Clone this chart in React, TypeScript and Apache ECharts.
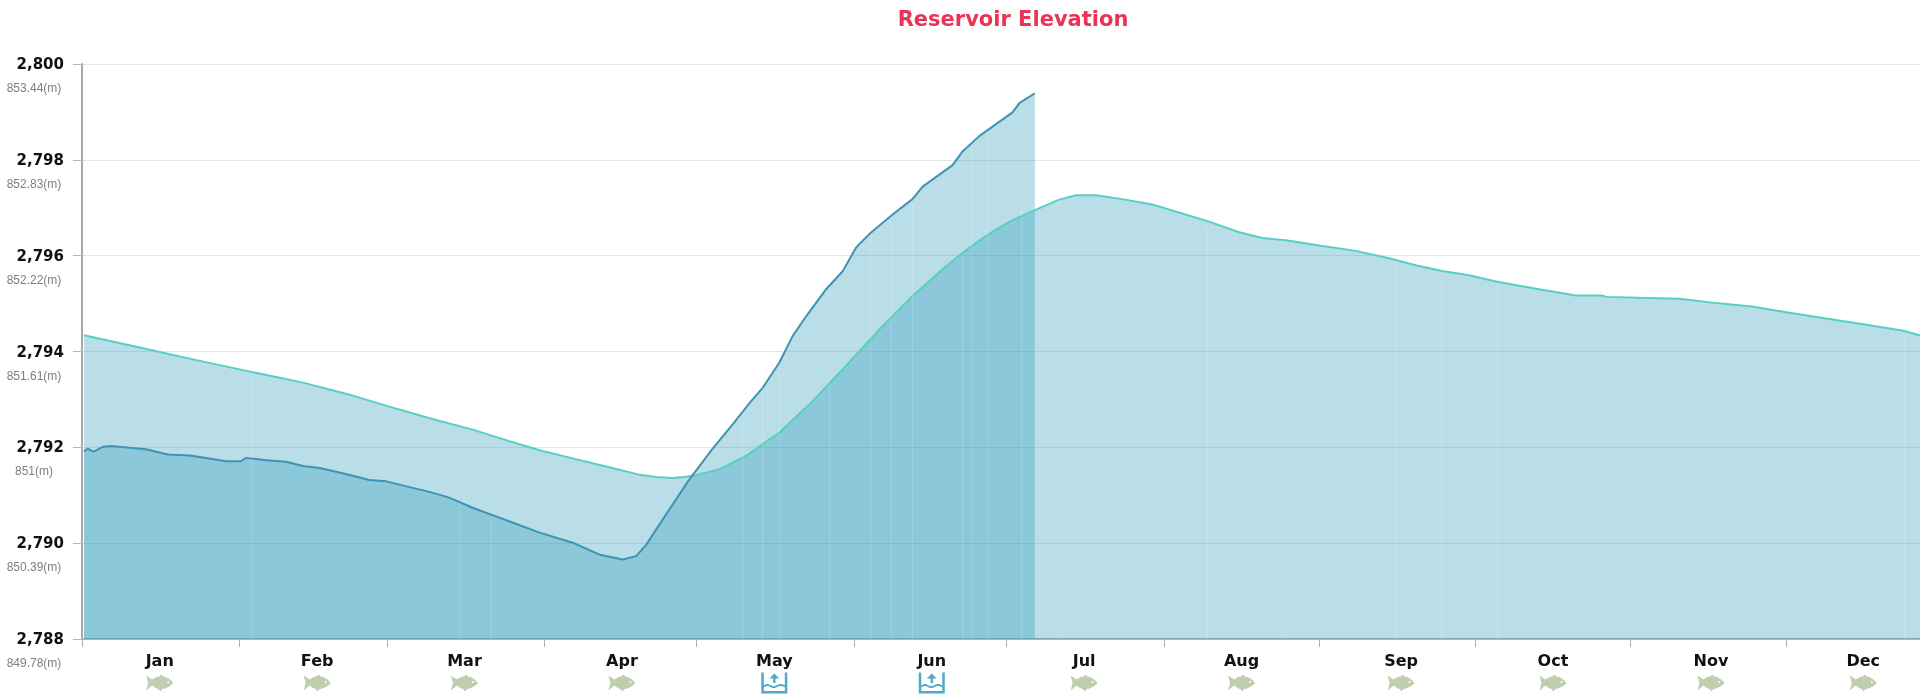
import React, { useEffect, useRef } from "react";
import * as echarts from "echarts";

const monthNames = ["Jan", "Feb", "Mar", "Apr", "May", "Jun", "Jul", "Aug", "Sep", "Oct", "Nov", "Dec"];
const monthStarts = [0, 31, 60, 91, 121, 152, 182, 213, 243.6, 274.4, 304.8, 335.6, 366];
const monthLabelDays = [15.3, 46.3, 75.3, 106.3, 136.3, 167.3, 197.3, 228.3, 259.7, 289.6, 320.7, 350.7];
const monthIcons = ["fish", "fish", "fish", "fish", "basin", "basin", "fish", "fish", "fish", "fish", "fish", "fish"];
const iconRowValue = 2787.08;

const feetTicks = [2788, 2790, 2792, 2794, 2796, 2798, 2800];
const metreLabels = ["849.78(m)", "850.39(m)", "851(m)", "851.61(m)", "852.22(m)", "852.83(m)", "853.44(m)"];

const normalDays = [0.4, 10.7, 22.5, 33.6, 43.5, 53.3, 60.5, 69.7, 76.9, 83.5, 90.1, 96.6, 103.2, 109.7, 113, 116.2, 118.5, 120.9, 125.5, 130.7, 137.3, 143.9, 150.4, 157, 163.5, 170.1, 173.4, 176.7, 180, 183.2, 187.6, 192.4, 195.7, 199.6, 204.8, 210.7, 216.6, 221.9, 227.8, 232.4, 237, 244.2, 250.8, 256.7, 262.6, 267.8, 273.1, 278.4, 286.3, 294.1, 299.3, 300, 306.6, 314.5, 321, 328.8, 335.5, 343.4, 351.9, 358.4, 361.8, 366];
const normalValues = [2794.34, 2794.1, 2793.82, 2793.57, 2793.35, 2793.08, 2792.85, 2792.57, 2792.37, 2792.15, 2791.94, 2791.77, 2791.6, 2791.43, 2791.38, 2791.36, 2791.38, 2791.42, 2791.54, 2791.82, 2792.31, 2792.97, 2793.7, 2794.46, 2795.16, 2795.78, 2796.06, 2796.32, 2796.55, 2796.74, 2796.95, 2797.17, 2797.26, 2797.26, 2797.18, 2797.07, 2796.88, 2796.71, 2796.49, 2796.37, 2796.32, 2796.2, 2796.1, 2795.96, 2795.8, 2795.68, 2795.59, 2795.46, 2795.31, 2795.17, 2795.17, 2795.14, 2795.12, 2795.1, 2795.02, 2794.94, 2794.82, 2794.69, 2794.55, 2794.44, 2794.34, 2794.25];

const actualDays = [0.4, 1.1, 2.3, 4.1, 5.8, 9.4, 12.6, 16.9, 21.2, 23.8, 28.4, 31.3, 32.3, 36.3, 40.2, 43.5, 46.8, 51.3, 56.6, 59.9, 64.5, 68.4, 72.3, 76.9, 83.5, 90.1, 96.6, 101.9, 106.5, 109.1, 111.1, 115, 119.3, 124.2, 128.1, 131.7, 134, 137.3, 139.9, 142.6, 146.5, 149.8, 152.4, 155, 159.6, 163.5, 165.5, 171.4, 173.4, 176.7, 183.2, 184.6, 187.6];
const actualValues = [2791.91, 2791.97, 2791.91, 2792.01, 2792.03, 2791.99, 2791.96, 2791.85, 2791.83, 2791.79, 2791.71, 2791.71, 2791.78, 2791.73, 2791.7, 2791.61, 2791.57, 2791.46, 2791.32, 2791.29, 2791.17, 2791.07, 2790.95, 2790.74, 2790.48, 2790.22, 2790.01, 2789.76, 2789.66, 2789.73, 2789.97, 2790.6, 2791.29, 2791.98, 2792.48, 2792.96, 2793.24, 2793.77, 2794.32, 2794.74, 2795.3, 2795.68, 2796.17, 2796.45, 2796.86, 2797.18, 2797.44, 2797.89, 2798.18, 2798.5, 2798.99, 2799.19, 2799.39];

const seamDays = [33.5, 74.3, 80.5, 130.1, 134, 137.3, 147.2, 155.3, 159.3, 163.5, 173.4, 175.2, 178.3, 185, 192.2, 221.5, 236.9, 258.8, 267.6, 278.6, 358.8];
const seamTops = [2793.5, 2790.85, 2790.55, 2792.85, 2793.2, 2793.7, 2795.35, 2796.4, 2796.8, 2797.1, 2798.1, 2798.3, 2798.6, 2799.05, 2797.15, 2796.65, 2796.27, 2795.9, 2795.63, 2795.41, 2794.4];

const fishPath = "path://M0 1 L6 5 C9 2.5 12 2 13 2 L15 0 L17 2 C21 2.5 25 5.5 27 8.5 C25 11 21 14 16 14.5 L14 17 L12 14.5 C10 14 8 13 6 11 L0 16 L2 8.5 Z M22 6.5 a1 1 0 1 0 0 2 a1 1 0 1 0 0 -2 Z";
const basinPath = "path://M0 0 H2.5 V18.5 H23.5 V0 H26 V21 H0 Z M2.5 13 C5 11 7 11 9 12.5 C11 14 14 14 16 12.5 C18 11 21 11 23.5 13 V15 C21 13 18 13 16 14.5 C14 16 11 16 9 14.5 C7 13 5 13 2.5 15 Z M13 1 L18 6 H14.2 V10.5 H11.8 V6 H8 Z";

const zip = (xs: number[], ys: number[]) => xs.map((x, i) => [x, ys[i]]);
const areaFill = "rgba(39,152,183,0.32)";

export default function App() {
  const ref = useRef<HTMLDivElement>(null);
  useEffect(() => {
    const chart = echarts.init(ref.current!, undefined, { renderer: "svg" });
    chart.setOption({
      animation: false,
      title: {
        text: "Reservoir Elevation",
        left: 1008,
        top: 3,
        textAlign: "center",
        textStyle: { color: "#EA3355", fontSize: 21, fontWeight: "bold", fontFamily: "DejaVu Sans" },
      },
      grid: { left: 82, top: 64, width: 1859, height: 575, containLabel: false, outerBoundsMode: "none" },
      xAxis: {
        type: "value",
        min: 0,
        max: 366,
        splitLine: { show: false },
        axisLine: { onZero: false, lineStyle: { color: "#B4B4B4", width: 2 } },
        axisTick: { customValues: monthStarts, length: 8, lineStyle: { color: "#B0B0B0" } },
        axisLabel: {
          customValues: monthLabelDays,
          margin: 13,
          color: "#111",
          fontSize: 16,
          fontWeight: "bold",
          fontFamily: "DejaVu Sans",
          formatter: (v: number) => monthNames[monthLabelDays.indexOf(v)] ?? "",
        },
      },
      yAxis: [
        {
          type: "value",
          min: 2788,
          max: 2800,
          interval: 2,
          axisLine: { show: true, onZero: false, lineStyle: { color: "#A8A8A8", width: 2 } },
          axisTick: { show: true, length: 9, lineStyle: { color: "#B8B8B8" } },
          splitLine: { lineStyle: { color: "#E6E6E6" } },
          axisLabel: {
            margin: 18,
            color: "#111",
            fontSize: 15,
            fontWeight: "bold",
            fontFamily: "DejaVu Sans",
            formatter: (v: number) => v.toLocaleString("en-US"),
          },
        },
        {
          type: "value",
          position: "left",
          min: 2788,
          max: 2800,
          interval: 2,
          axisLine: { show: false },
          axisTick: { show: false },
          splitLine: { show: false },
          axisLabel: {
            margin: 48,
            align: "center",
            verticalAlign: "middle",
            formatter: (v: number) => `{gap| }\n{metre|${metreLabels[feetTicks.indexOf(v)] ?? ""}}`,
            rich: {
              gap: { height: 48, lineHeight: 48, fontSize: 12 },
              metre: { color: "#7F7F7F", fontSize: 12, height: 12, lineHeight: 12, fontFamily: "Liberation Sans" },
            },
          },
        },
      ],
      series: [
        {
          name: "Normal",
          type: "line",
          z: 2,
          showSymbol: false,
          data: zip(normalDays, normalValues),
          lineStyle: { color: "#55D0C2", width: 2 },
          areaStyle: { color: areaFill, origin: "start", opacity: 1 },
        },
        {
          name: "Actual",
          type: "line",
          z: 2,
          showSymbol: false,
          data: zip(actualDays, actualValues),
          lineStyle: { color: "#3F93B5", width: 2 },
          areaStyle: { color: areaFill, origin: "start", opacity: 1 },
        },
        {
          name: "Seams",
          type: "custom",
          z: 3,
          silent: true,
          data: zip(seamDays, seamTops),
          encode: { x: 0, y: 1 },
          renderItem: (_params: any, api: any) => {
            const top = api.coord([api.value(0), api.value(1)]);
            const bottom = api.coord([api.value(0), 2788]);
            return {
              type: "rect",
              shape: { x: top[0] - 0.5, y: top[1], width: 1, height: bottom[1] - top[1] },
              style: { fill: "rgba(255,255,255,0.16)" },
            };
          },
        },
        {
          name: "Fish",
          type: "scatter",
          clip: false,
          silent: true,
          symbol: fishPath,
          symbolSize: [27, 17],
          data: monthLabelDays.filter((_, i) => monthIcons[i] === "fish").map((d) => [d, iconRowValue]),
          itemStyle: { color: "#BFCFAE", opacity: 1 },
        },
        {
          name: "Basin",
          type: "scatter",
          clip: false,
          silent: true,
          symbol: basinPath,
          symbolSize: [26, 21],
          data: monthLabelDays.filter((_, i) => monthIcons[i] === "basin").map((d) => [d, iconRowValue]),
          itemStyle: { color: "#4FA9C9", opacity: 1 },
        },
      ],
    });
    return () => chart.dispose();
  }, []);
  return (
    <div style={{ position: "fixed", left: 0, top: 0, width: 1920, height: 694, overflow: "hidden" }}>
      <div ref={ref} style={{ width: 1960, height: 694 }} />
    </div>
  );
}
